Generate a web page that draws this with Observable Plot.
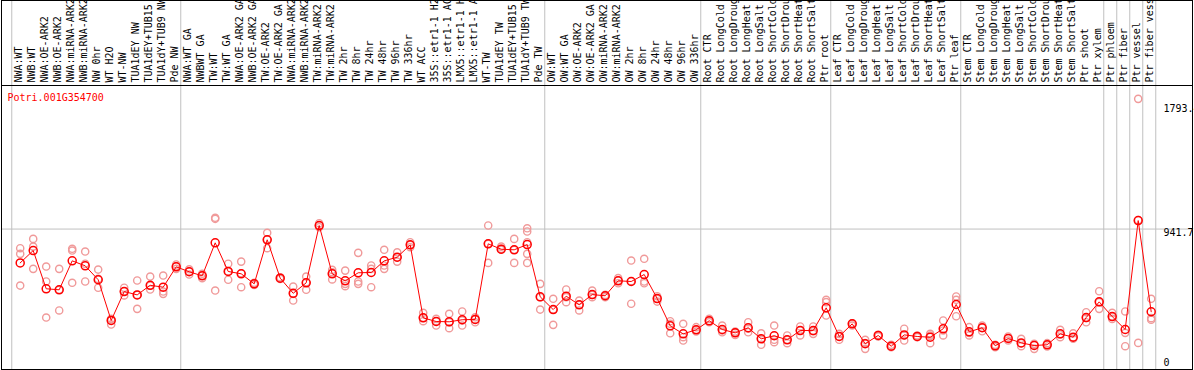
<!DOCTYPE html>
<html><head><meta charset="utf-8">
<script src="https://cdn.jsdelivr.net/npm/d3@7"></script>
<script src="https://cdn.jsdelivr.net/npm/@observablehq/plot@0.6"></script>
<style>html,body{margin:0;padding:0;background:#fff;overflow:hidden}#chart svg{display:block}</style>
</head><body><div id="chart"></div>
<script>
const title = "Potri.001G354700";
const samples = ["NWA:WT","NWB:WT","NWA:OE-ARK2","NWB:OE-ARK2","NWA:miRNA-ARK2","NWB:miRNA-ARK2","NW 0hr","WT H2O","WT-NW","TUA1dEY NW","TUA1dEY+TUB15 NW","TUA1dY+TUB9 NW","Pde NW",
"NWA:WT GA","NWBWT GA","TW:WT","TW:WT GA","NWA:OE-ARK2 GA","NWB:OE-ARK2 GA","TW:OE-ARK2","TW:OE-ARK2 GA","NWA:miRNA-ARK2 GA","NWB:miRNA-ARK2 GA","TW:miRNA-ARK2","TW:miRNA-ARK2 GA","TW 2hr","TW 8hr","TW 24hr","TW 48hr","TW 96hr","TW 336hr","WT ACC","35S::etr1-1 H2O","35S::etr1-1 ACC","LMX5::etr1-1 H2O","LMX5::etr1-1 ACC","WT-TW","TUA1dEY TW","TUA1dEY+TUB15 TW","TUA1dY+TUB9 TW","Pde TW",
"OW:WT","OW:WT GA","OW:OE-ARK2","OW:OE-ARK2 GA","OW:miRNA-ARK2","OW:miRNA-ARK2 GA","OW 2hr","OW 8hr","OW 24hr","OW 48hr","OW 96hr","OW 336hr",
"Root CTR","Root LongCold","Root LongDrought","Root LongHeat","Root LongSalt","Root ShortCold","Root ShortDrought","Root ShortHeat","Root ShortSalt","Ptr root",
"Leaf CTR","Leaf LongCold","Leaf LongDrought","Leaf LongHeat","Leaf LongSalt","Leaf ShortCold","Leaf ShortDrought","Leaf ShortHeat","Leaf ShortSalt","Ptr leaf",
"Stem CTR","Stem LongCold","Stem LongDrought","Stem LongHeat","Stem LongSalt","Stem ShortCold","Stem ShortDrought","Stem ShortHeat","Stem ShortSalt","Ptr shoot",
"Ptr xylem","Ptr phloem","Ptr fiber","Ptr vessel","Ptr fiber vessel"];
const means = [709,794,531,524,723,689,593,313,512,489,
555,542,682,648,620,847,650,634,565,868,
604,500,572,966,634,586,641,643,723,748,
833,331,306,304,318,320,840,803,799,835,
476,388,480,421,491,483,586,581,629,464,
276,221,249,311,251,228,263,187,208,180,
244,244,400,203,290,153,210,136,214,203,
198,256,423,235,263,139,189,159,141,146,
221,198,333,441,340,251,1000,373];
const replicates = [[810,771,553],[874,821,668],[684,581,333],[668,524,382],[806,794,572],[787,703,581],[663,599,538],[324,285,313],[538,485,514],[588,489,393],
[615,526,553],[622,496,512],[698,686,668],[665,629,650],[634,604,622],[1019,1012,519],[703,593,650],[718,542,638],[572,565,558],[916,810,870],
[610,599,606],[546,496,450],[615,524,576],[982,966,954],[661,595,645],[656,549,565],[778,565,581],[691,542,668],[799,668,691],[782,718,746],
[851,833,817],[366,308,331],[324,278,308],[359,260,301],[375,278,313],[335,301,320],[966,709,840],[821,799,806],[874,709,799],[947,925,851,771,709],
[565,388,473],[462,283,388],[526,439,473],[450,382,421],[519,473,489],[489,473,480],[604,569,588],[725,428,583],[737,569,581],[480,443,462],
[308,225,290],[290,175,198],[267,237,249],[324,301,308],[278,232,244],[237,214,230],[301,232,256],[225,146,187],[278,164,180],[210,157,180],
[272,210,244],[272,221,239],[455,439,347],[221,180,203],[294,278,290],[180,118,157],[214,203,210],[146,129,136],[256,175,210],[210,198,203],
[221,157,210],[313,210,244],[478,455,342],[267,210,228],[278,239,263],[146,129,139],[203,175,191],[187,136,157],[153,118,146],[157,134,146],
[249,198,217],[225,187,198],[370,301,331],[514,393,439],[366,324,340],[375,228,136],[1837,159,1004],[462,329,318]];
const groupStarts = [0,13,41,53,63,73,84,85,86,87,88];
const gridValues = [941.7];
const tickValues = [1793.4, 941.7];
const tickLabels = ["1793.4", "941.7"];
const zeroValue = [0];
const zeroLabel = ["0"];

const meanData = samples.map((s, i) => ({i, s, v: means[i]}));
const repData = replicates.flatMap((r, i) => r.map(v => ({i, v})));
const yMax = d3.max(repData, d => d.v) * 1.05;

const chart = Plot.plot({
  width: 1194, height: 370,
  marginTop: 0, marginBottom: 1, marginLeft: 1, marginRight: 2,
  x: {type: "linear", domain: [0, samples.length - 1], insetLeft: 18.7, insetRight: 41.3, axis: null},
  y: {domain: [0, yMax], insetTop: 85, insetBottom: 3.5, axis: null},
  style: {fontFamily: "'DejaVu Sans Mono', monospace", fontSize: "10px", background: "white", color: "black"},
  marks: [
    Plot.ruleX(groupStarts, {x: d => d - 0.65, stroke: "#c0c0c0", strokeWidth: 1}),
    Plot.ruleY(gridValues, {stroke: "#c0c0c0", strokeWidth: 1}),
    Plot.ruleY([yMax], {stroke: "black", strokeWidth: 1}),
    Plot.frame({stroke: "black", strokeWidth: 1}),
    Plot.text(samples, {x: (d, i) => i, y: () => yMax, text: d => d, rotate: -90, textAnchor: "start", dy: -3, dx: -1.5, fill: "black"}),
    Plot.text([title], {y: () => yMax, frameAnchor: "left", textAnchor: "start", lineAnchor: "top", dx: 6, dy: 8, fill: "#ff0000"}),
    Plot.text(tickValues, {y: d => d, text: (d, i) => tickLabels[i], frameAnchor: "right", textAnchor: "start", lineAnchor: "top", dx: -29, fill: "black"}),
    Plot.text(zeroValue, {y: d => d, text: (d, i) => zeroLabel[i], frameAnchor: "right", textAnchor: "start", lineAnchor: "bottom", dx: -29, fill: "black"}),
    Plot.dot(repData, {x: "i", y: "v", r: 3.6, stroke: "#f09a9a", strokeWidth: 1.4}),
    Plot.line(meanData, {x: "i", y: "v", stroke: "#ff0000", strokeWidth: 1}),
    Plot.dot(meanData, {x: "i", y: "v", r: 4, stroke: "#ff0000", strokeWidth: 1.5})
  ]
});
document.getElementById("chart").appendChild(chart);
</script>
</body></html>
